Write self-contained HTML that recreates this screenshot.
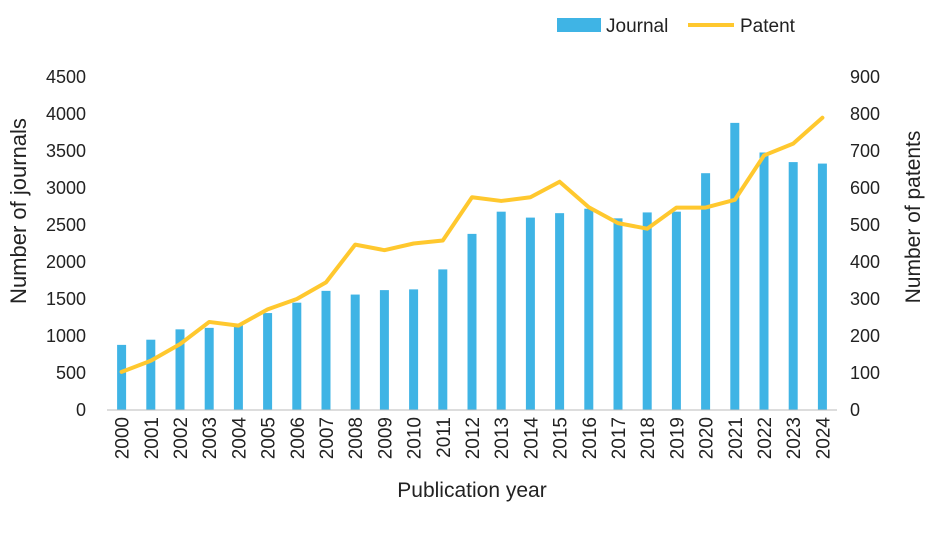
<!DOCTYPE html>
<html><head><meta charset="utf-8"><style>
body{margin:0;background:#fff}
svg{display:block;font-family:"Liberation Sans",sans-serif}
</style></head><body>
<svg id="chart" width="936" height="556" viewBox="0 0 936 556">
<g id="legend">
 <rect x="557" y="18" width="44" height="14" fill="#3FB4E5"/>
 <text x="606" y="32" font-size="19" fill="#222">Journal</text>
 <line x1="688" y1="25" x2="734" y2="25" stroke="#FFC82E" stroke-width="4"/>
 <text x="740" y="32" font-size="19" fill="#222">Patent</text>
</g>
<text transform="translate(26,211) rotate(-90)" text-anchor="middle" font-size="22" fill="#222">Number of journals</text>
<text transform="translate(920,217) rotate(-90)" text-anchor="middle" font-size="21" fill="#222">Number of patents</text>
<text x="472" y="497" text-anchor="middle" font-size="21" fill="#222">Publication year</text>
<g id="plot"></g>
</svg>
<script>
const years=["2000","2001","2002","2003","2004","2005","2006","2007","2008","2009","2010","2011","2012","2013","2014","2015","2016","2017","2018","2019","2020","2021","2022","2023","2024"];
const journals=[880,950,1090,1110,1150,1310,1450,1610,1560,1620,1630,1900,2380,2680,2600,2660,2720,2590,2670,2680,3200,3880,3480,3350,3330];
const patents=[103,133,178,238,228,272,300,345,447,432,450,458,575,565,575,617,548,505,490,547,547,568,688,720,790];
const leftTicks=[0,500,1000,1500,2000,2500,3000,3500,4000,4500];
const rightTicks=[0,100,200,300,400,500,600,700,800,900];
const NS="http://www.w3.org/2000/svg";
const g=document.getElementById('plot');
const x0=107,x1=837,yTop=77,yBot=410;
const step=(x1-x0)/years.length;
const xs=i=>x0+step*(i+0.5);
const yL=v=>yBot-(v/4500)*(yBot-yTop);
const yR=v=>yBot-(v/900)*(yBot-yTop);
function mk(t,a){const e=document.createElementNS(NS,t);for(const k in a)e.setAttribute(k,a[k]);g.appendChild(e);return e;}
leftTicks.forEach(v=>{const t=mk('text',{x:x0-21,y:yL(v)+6,'text-anchor':'end','font-size':18,fill:'#222'});t.textContent=v;

});
rightTicks.forEach(v=>{const t=mk('text',{x:x1+13,y:yR(v)+6,'font-size':18,fill:'#222'});t.textContent=v;

});
journals.forEach((v,i)=>{const r=mk('rect',{x:xs(i)-4.5,y:yL(v),width:9,height:yBot-yL(v),fill:'#3FB4E5'});

});
const ax=mk('line',{x1:x0,y1:yBot,x2:x1,y2:yBot,stroke:'#bbb','stroke-width':1});


const pl=mk('polyline',{points:patents.map((v,i)=>xs(i)+','+yR(v)).join(' '),fill:'none',stroke:'#FFC82E','stroke-width':4,'stroke-linejoin':'round','stroke-linecap':'round'});


years.forEach((y,i)=>{const t=mk('text',{transform:`translate(${xs(i)+7},417) rotate(-90)`,'text-anchor':'end','font-size':19,fill:'#222'});t.textContent=y;

});
</script>
</body></html>
